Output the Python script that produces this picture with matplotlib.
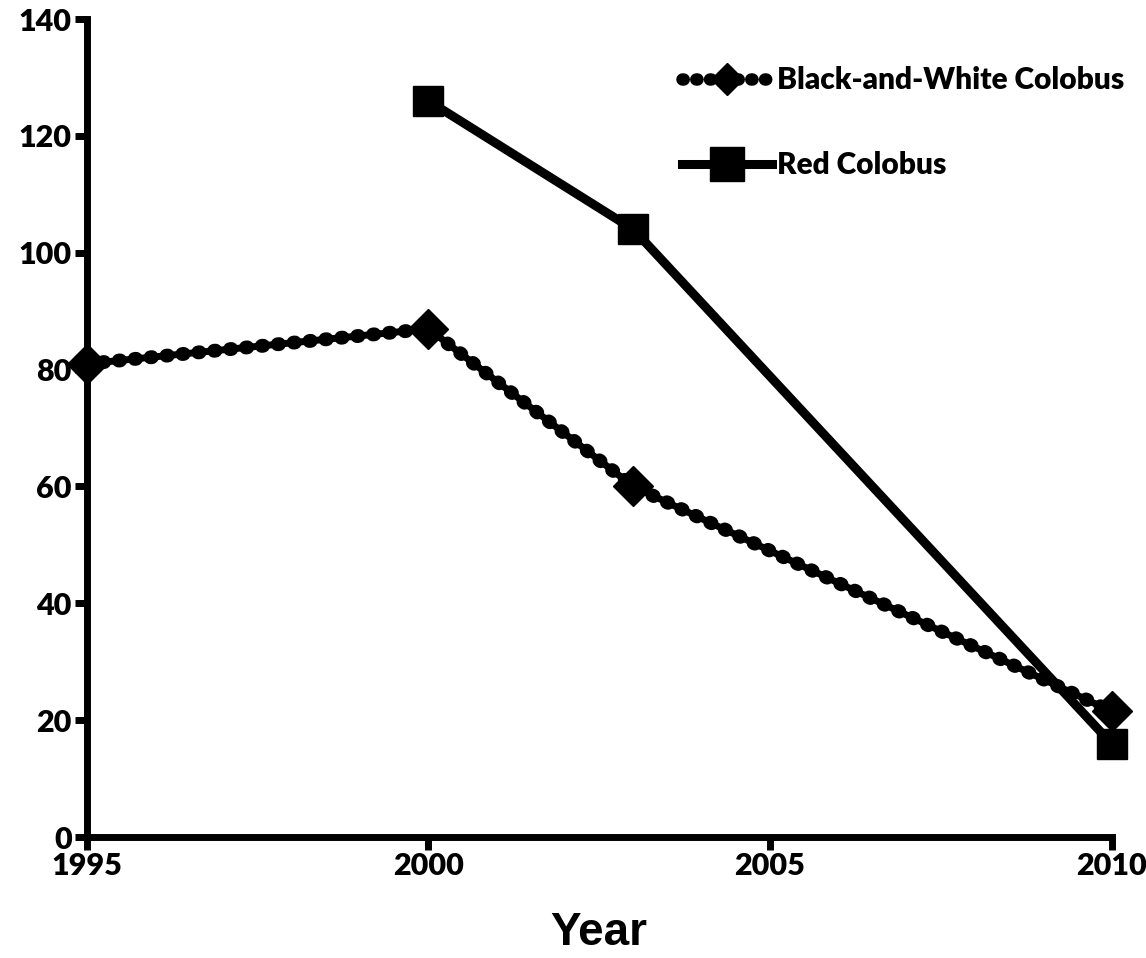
import matplotlib.pyplot as plt
from matplotlib.lines import Line2D

years_bw = [1995, 2000, 2003, 2010]
bw_values = [81, 87, 60, 21.5]
years_red = [2000, 2003, 2010]
red_values = [126, 104, 16]

x_ticks = [1995, 2000, 2005, 2010]
y_ticks = [0, 20, 40, 60, 80, 100, 120, 140]

plt.rcParams['font.family'] = ['Lato', 'DejaVu Sans']
plt.rcParams['font.weight'] = 'heavy'

fig = plt.figure(figsize=(11.46, 9.58), dpi=100)
ax = fig.add_axes([0.0759, 0.1263, 0.894, 0.8537])

dotted = (0, (0.1, 1.05))

# black-and-white colobus: chain of dots
ax.plot(years_bw, bw_values, color='black', lw=5, solid_capstyle='round', zorder=3)
ax.plot(years_bw, bw_values, color='black', lw=10, linestyle=dotted,
        dash_capstyle='round', zorder=3)
ax.plot(years_bw, bw_values, linestyle='none', marker='D', markersize=20,
        color='black', zorder=4)

# red colobus
ax.plot(years_red, red_values, color='black', lw=6.5, marker='s', markersize=22,
        solid_capstyle='butt', zorder=5)

ax.set_xlim(1995, 2010)
ax.set_ylim(0, 140)
ax.set_xticks(x_ticks)
ax.set_yticks(y_ticks)
ax.tick_params(axis='both', direction='out', length=9, width=5, labelsize=22, pad=2)
for lbl in ax.get_xticklabels() + ax.get_yticklabels():
    lbl.set_fontweight('heavy')

for side in ['top', 'right']:
    ax.spines[side].set_visible(False)
for side in ['left', 'bottom']:
    ax.spines[side].set_linewidth(5)

ax.set_xlabel('Year', fontsize=33, fontweight='bold', family='Liberation Sans', labelpad=22)

bw_handle = Line2D([], [], color='black', lw=9, linestyle=(0, (0.1, 1.0)),
                   dash_capstyle='round', marker='D', markersize=16)
red_handle = Line2D([], [], color='black', lw=6.5, marker='s', markersize=24)
leg = ax.legend([bw_handle, red_handle], ['Black-and-White Colobus', 'Red Colobus'],
                loc='upper left', bbox_to_anchor=(0.555, 0.975), frameon=False,
                handlelength=3.0, handletextpad=0.15, labelspacing=1.9,
                prop={'weight': 'heavy', 'size': 21.5})

for line in ax.get_lines():
    line.set_clip_on(False)

fig.savefig('out.png', dpi=100)
